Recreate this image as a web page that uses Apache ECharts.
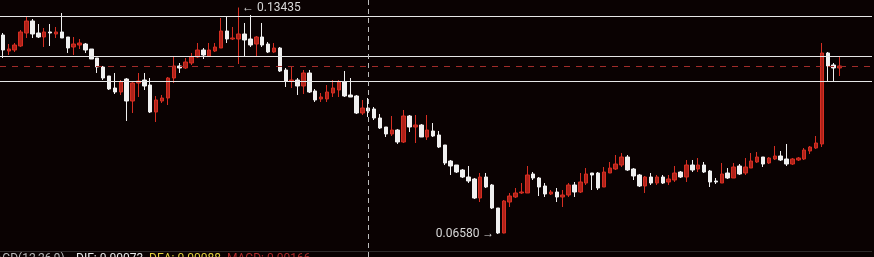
<!DOCTYPE html>
<html>
<head>
<meta charset="utf-8">
<style>
html,body{margin:0;padding:0;background:#0a0202;}
#chart{width:874px;height:257px;}
</style>
<script src="https://cdn.jsdelivr.net/npm/echarts@6/dist/echarts.min.js"></script>
</head>
<body>
<div id="chart"></div>
<script>
// Candles: [open, close, low, high]
const candles = [
[0.12603,0.12149,0.11907,0.12663],
[0.12118,0.12179,0.11997,0.12330],
[0.12149,0.12300,0.12088,0.12361],
[0.12270,0.12694,0.12240,0.12754],
[0.12663,0.13026,0.12512,0.13148],
[0.13026,0.12633,0.12512,0.13087],
[0.12663,0.12542,0.12512,0.12936],
[0.12542,0.12694,0.12240,0.12815],
[0.12694,0.12663,0.12270,0.12936],
[0.12633,0.12694,0.12512,0.12845],
[0.12694,0.12512,0.12512,0.13269],
[0.12542,0.12209,0.12058,0.12542],
[0.12240,0.12330,0.11997,0.12542],
[0.12300,0.12361,0.12179,0.12482],
[0.12330,0.12149,0.12058,0.12361],
[0.12179,0.11876,0.11876,0.12179],
[0.11907,0.11634,0.11453,0.11907],
[0.11634,0.11301,0.11241,0.11665],
[0.11362,0.10968,0.10938,0.11362],
[0.10999,0.10878,0.10817,0.11453],
[0.10878,0.11180,0.10787,0.11241],
[0.11271,0.10605,0.10000,0.11301],
[0.10605,0.11150,0.10242,0.11180],
[0.11150,0.11211,0.10726,0.11453],
[0.11241,0.11059,0.10938,0.11453],
[0.11089,0.10272,0.10242,0.11301],
[0.10272,0.10636,0.09970,0.10757],
[0.10605,0.10696,0.10545,0.10787],
[0.10696,0.11301,0.10484,0.11332],
[0.11301,0.11665,0.11150,0.11937],
[0.11665,0.11604,0.11453,0.11755],
[0.11604,0.11786,0.11574,0.11907],
[0.11755,0.11937,0.11695,0.12058],
[0.11937,0.12149,0.11907,0.12361],
[0.12149,0.11997,0.11876,0.12209],
[0.11967,0.12149,0.11937,0.12361],
[0.12118,0.12240,0.12088,0.12361],
[0.12209,0.12724,0.12209,0.13117],
[0.12724,0.12482,0.12361,0.13148],
[0.12482,0.12512,0.12451,0.12845],
[0.12482,0.12633,0.11725,0.13435],
[0.12633,0.12451,0.11937,0.12966],
[0.12482,0.12300,0.12240,0.13208],
[0.12330,0.12542,0.11937,0.12572],
[0.12542,0.12300,0.12240,0.12966],
[0.12330,0.12088,0.12058,0.12391],
[0.12088,0.12209,0.12058,0.12361],
[0.12209,0.11513,0.11483,0.12240],
[0.11543,0.11211,0.11029,0.11604],
[0.11211,0.11241,0.10999,0.11634],
[0.11241,0.11059,0.10787,0.11301],
[0.11059,0.11453,0.10817,0.11543],
[0.11453,0.10878,0.10847,0.11543],
[0.10908,0.10636,0.10575,0.10968],
[0.10666,0.10726,0.10575,0.10847],
[0.10666,0.10878,0.10575,0.11089],
[0.10847,0.10999,0.10726,0.11241],
[0.10938,0.11180,0.10726,0.11241],
[0.11180,0.10757,0.10726,0.11513],
[0.10787,0.10726,0.10726,0.11301],
[0.10757,0.10242,0.10212,0.10787],
[0.10242,0.10393,0.10182,0.10636],
[0.10393,0.10303,0.10121,0.10696],
[0.10363,0.10091,0.10030,0.10424],
[0.10091,0.09788,0.09758,0.10212],
[0.09818,0.09607,0.09516,0.09818],
[0.09607,0.09728,0.09546,0.10151],
[0.09728,0.09364,0.09304,0.09758],
[0.09364,0.10151,0.09334,0.10333],
[0.10151,0.09818,0.09667,0.10182],
[0.09818,0.09879,0.09334,0.10182],
[0.09879,0.09516,0.09516,0.09909],
[0.09516,0.09728,0.09425,0.10182],
[0.09697,0.09546,0.09516,0.09939],
[0.09576,0.09213,0.09183,0.09697],
[0.09274,0.08729,0.08668,0.09274],
[0.08789,0.08638,0.08366,0.08820],
[0.08668,0.08456,0.08426,0.08668],
[0.08517,0.08305,0.08275,0.08547],
[0.08305,0.08184,0.08123,0.08638],
[0.08245,0.07669,0.07639,0.08275],
[0.07669,0.08305,0.07548,0.08426],
[0.08305,0.08002,0.07972,0.08426],
[0.08063,0.07367,0.07337,0.08093],
[0.07367,0.06610,0.06580,0.07367],
[0.06610,0.07579,0.06600,0.07609],
[0.07548,0.07730,0.07397,0.07821],
[0.07700,0.07821,0.07669,0.07972],
[0.07821,0.07851,0.07791,0.08123],
[0.07821,0.08366,0.07821,0.08638],
[0.08396,0.08275,0.08214,0.08456],
[0.08275,0.08002,0.07730,0.08305],
[0.08033,0.07791,0.07700,0.08123],
[0.07791,0.07851,0.07760,0.07912],
[0.07851,0.07700,0.07548,0.07972],
[0.07700,0.07760,0.07397,0.07912],
[0.07760,0.08063,0.07700,0.08123],
[0.08063,0.07851,0.07700,0.08154],
[0.07851,0.08154,0.07821,0.08426],
[0.08123,0.08396,0.08063,0.08577],
[0.08426,0.08366,0.07912,0.08426],
[0.08426,0.07972,0.07912,0.08456],
[0.08002,0.08456,0.08002,0.08608],
[0.08426,0.08577,0.08426,0.08759],
[0.08547,0.08698,0.08517,0.08971],
[0.08668,0.08910,0.08608,0.09031],
[0.08910,0.08517,0.08487,0.08971],
[0.08547,0.08335,0.08214,0.08577],
[0.08366,0.08033,0.08002,0.08396],
[0.08033,0.08305,0.07821,0.08335],
[0.08305,0.08123,0.08063,0.08426],
[0.08123,0.08305,0.08063,0.08366],
[0.08305,0.08123,0.08093,0.08366],
[0.08154,0.08245,0.08063,0.08366],
[0.08214,0.08426,0.08154,0.08638],
[0.08456,0.08305,0.08275,0.08487],
[0.08305,0.08668,0.08154,0.08820],
[0.08668,0.08517,0.08456,0.08820],
[0.08547,0.08668,0.08456,0.08880],
[0.08668,0.08456,0.08426,0.08759],
[0.08487,0.08154,0.08002,0.08517],
[0.08184,0.08154,0.08093,0.08275],
[0.08123,0.08396,0.08123,0.08729],
[0.08426,0.08275,0.08245,0.08577],
[0.08275,0.08608,0.08275,0.08729],
[0.08638,0.08396,0.08366,0.08698],
[0.08426,0.08608,0.08366,0.08880],
[0.08577,0.08789,0.08577,0.09031],
[0.08759,0.08910,0.08729,0.09062],
[0.08910,0.08698,0.08608,0.08910],
[0.08729,0.08880,0.08698,0.08910],
[0.08850,0.08941,0.08820,0.09243],
[0.08941,0.08820,0.08789,0.09092],
[0.08850,0.08698,0.08638,0.09304],
[0.08698,0.08850,0.08668,0.08880],
[0.08820,0.08880,0.08789,0.08910],
[0.08850,0.09122,0.08820,0.09183],
[0.09092,0.09213,0.09001,0.09243],
[0.09183,0.09334,0.09153,0.09546],
[0.09304,0.12058,0.09213,0.12361],
[0.12058,0.11665,0.11180,0.12088],
[0.11695,0.11604,0.11180,0.11755],
[0.11604,0.11665,0.11362,0.11937]
];
const totalSlots = 148;
const categories = [];
for (let i = 0; i < totalSlots; i++) categories.push('K' + (i + 1));

const levelLines = [0.13157, 0.11952, 0.11211];
const lastPrice = 0.11665;
const paneBottom = 0.060655;
const highValue = 0.13435, highIndex = 40;
const lowValue = 0.06580, lowIndex = 84;
const crossIndex = 62;
const yMin = 0.058839, yMax = 0.13662;
const macdTexts = [
  {text: 'MACD(12,26,9)', x: -16, color: '#b8b8b8'},
  {text: 'DIF: 0.00073', x: 76, color: '#e8e8e8'},
  {text: 'DEA: 0.00088', x: 149, color: '#e2cf3c'},
  {text: 'MACD: 0.00166', x: 227, color: '#b02a2a'}
];

const chart = echarts.init(document.getElementById('chart'), null, {renderer: 'canvas'});
const font = 'Roboto, "Noto Sans", sans-serif';
const blank = categories.map(() => null);
function hLine(v, color, type, z) {
  return {
    type: 'line', data: blank, silent: true, symbol: 'none', z: z,
    lineStyle: {opacity: 0},
    markLine: {
      silent: true, symbol: ['none', 'none'], animation: false, precision: 6,
      label: {show: false},
      lineStyle: {color: color, width: 1, type: type},
      data: [{yAxis: v}]
    }
  };
}
chart.setOption({
  backgroundColor: '#0a0202',
  animation: false,
  grid: {left: 0, right: 2, top: 0, bottom: 0},
  xAxis: {
    type: 'category', data: categories, boundaryGap: true,
    axisLine: {show: false}, axisTick: {show: false}, axisLabel: {show: false}, splitLine: {show: false}
  },
  yAxis: {
    type: 'value', min: yMin, max: yMax, show: false, splitLine: {show: false}
  },
  series: [
    ...levelLines.map(v => hLine(v, '#e6e6e6', 'solid', 1)),
    hLine(lastPrice, '#a02c2a', [6, 6], 1),
    hLine(paneBottom, '#2e2a2a', 'solid', 1),
    {
      type: 'line', data: blank, silent: true, symbol: 'none', z: 1,
      lineStyle: {opacity: 0},
      markLine: {
        silent: true, symbol: ['none', 'none'], animation: false,
        label: {show: false},
        lineStyle: {color: '#bdbdbd', width: 1, type: [5, 4]},
        data: [{xAxis: categories[crossIndex]}]
      }
    },
    {
    type: 'candlestick',
    data: candles,
    barWidth: 4,
    z: 3,
    itemStyle: {
      color: '#ad2219', borderColor: '#d62e22',
      color0: '#f0f0f0', borderColor0: '#f0f0f0', borderWidth: 1
    },
    markPoint: {
      silent: true, animation: false,
      symbol: 'circle', symbolSize: 1,
      itemStyle: {color: 'rgba(0,0,0,0)'},
      data: [
        {coord: [categories[highIndex], highValue],
         label: {show: true, position: 'right', distance: 3, formatter: '← 0.13435', color: '#d8d8d8', fontSize: 12, fontFamily: font}},
        {coord: [categories[lowIndex], lowValue],
         label: {show: true, position: 'left', distance: 3, formatter: '0.06580 →', color: '#d8d8d8', fontSize: 12, fontFamily: font}}
      ]
    }
  }],
  graphic: macdTexts.map(t => ({
    type: 'text', left: t.x, top: 253, silent: true,
    style: {text: t.text, fill: t.color, fontSize: 12, fontFamily: font}
  }))
});
</script>
</body>
</html>
